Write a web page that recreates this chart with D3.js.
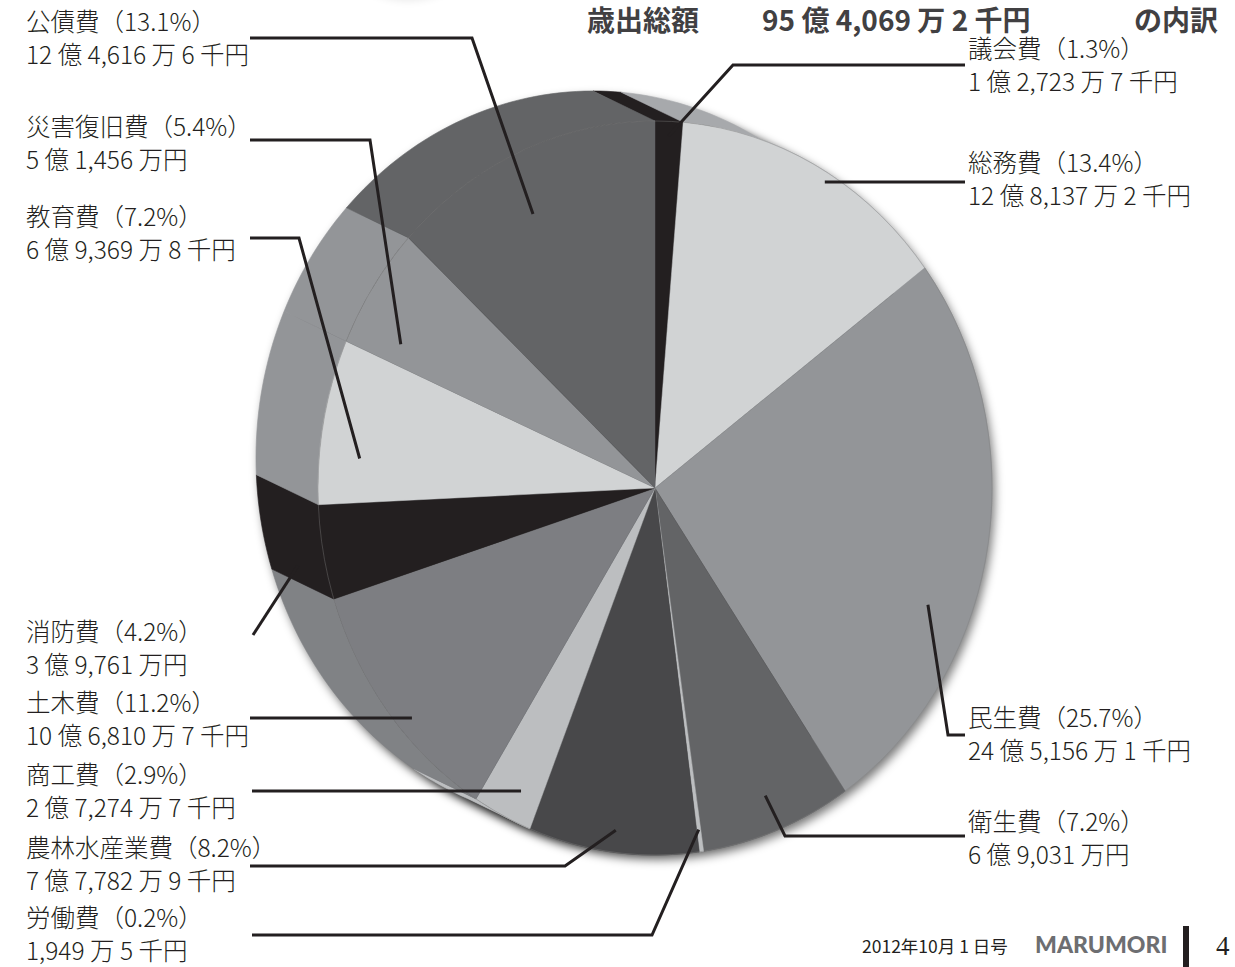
<!DOCTYPE html>
<html lang="ja">
<head>
<meta charset="utf-8">
<title>歳出総額の内訳</title>
<script src="https://cdn.jsdelivr.net/npm/d3@7/dist/d3.min.js"></script>
<style>
  html, body { margin: 0; padding: 0; background: #fff; }
  svg { display: block; }
  .label { font-family: "Noto Sans CJK JP", "Noto Sans", sans-serif; font-weight: 300; font-size: 24.5px; fill: #231f20; }
  .title { font-family: "Noto Sans CJK JP", sans-serif; font-weight: 700; font-size: 28px; fill: #414042; }
  .leader { fill: none; stroke: #231f20; stroke-width: 3; }
</style>
</head>
<body>
<svg id="chart" width="1235" height="967"></svg>
<script>
// 歳出の内訳 (単位: 千円)
const categories = ['議会費', '総務費', '民生費', '衛生費', '労働費', '農林水産業費',
  '商工費', '土木費', '消防費', '教育費', '災害復旧費', '公債費'];
const amounts = [127237, 1281372, 2451561, 690310, 19495, 777829,
  272747, 1068107, 397610, 693698, 514560, 1246166];
const percentLabels = ['1.3%', '13.4%', '25.7%', '7.2%', '0.2%', '8.2%',
  '2.9%', '11.2%', '4.2%', '7.2%', '5.4%', '13.1%'];

// greys of the top face and of the visible side wall
const topColors = ['#231f20', '#d1d3d4', '#939598', '#636466', '#bcbec0', '#48484a',
  '#bcbec0', '#7d7e82', '#231f20', '#d1d3d4', '#939598', '#636466'];
const sideColors = ['#231f20', '#a7a9ac', '#939598', '#636466', '#bcbec0', '#48484a',
  '#bcbec0', '#808285', '#231f20', '#939598', '#939598', '#636466'];

// label boxes and callout elbows (t/k = where the callout enters the slice)
const labelLayout = [
  { x: 968, y: 58,  path: [[965, 65], [733, 65]],   t: 0.5,  k: 0.96 },
  { x: 968, y: 172, path: [[965, 182]],             chord: 0.9 },
  { x: 968, y: 727, path: [[965, 735], [948, 735]], t: 0.63, k: 0.87 },
  { x: 968, y: 831, path: [[965, 836], [785, 836]], t: 0.5,  k: 0.9 },
  { x: 26,  y: 927, path: [[252, 935], [652, 935]], t: 0.5,  k: 0.94 },
  { x: 26,  y: 857, path: [[250, 866], [565, 866]], t: 0.5,  k: 0.94 },
  { x: 26,  y: 784, path: [[252, 791]],             chord: 0.36 },
  { x: 26,  y: 712, path: [[250, 718]],             chord: 0.85 },
  { x: 26,  y: 641, path: [[253, 635]],             t: 0.2,  k: 1, s: 0.5 },
  { x: 26,  y: 226, path: [[250, 238], [299, 238]], t: 0.3,  k: 0.88 },
  { x: 26,  y: 136, path: [[250, 140], [370, 140]], t: 0.2,  k: 0.85 },
  { x: 26,  y: 31,  path: [[250, 38], [472, 38]],   t: 0.45, k: 0.83 }
];

const cx = 655, cy = 488;      // centre of the top face
const rx = 337, ry = 367;      // top face radii
const depth = [-62, -30];      // direction of the side wall
const lineGap = 33;

const svg = d3.select('#chart');

// 千円 -> "1 億 2,723 万 7 千円"
function formatYen(v) {
  const oku = Math.floor(v / 100000);
  const man = Math.floor(v / 10) % 10000;
  const sen = v % 10;
  let s = '';
  if (oku) s += oku + ' 億 ';
  if (man) s += d3.format(',')(man) + ' 万';
  s += sen ? ' ' + sen + ' 千円' : '円';
  return s;
}

function proj(a, k) {
  return [cx + rx * k * Math.sin(a), cy - ry * k * Math.cos(a)];
}

// x where the slice boundary at angle a crosses the row y (or the rim)
function chordX(a, y) {
  const t = (y - cy) / (-ry * Math.cos(a));
  if (t > 0 && t <= 1) return cx + rx * t * Math.sin(a);
  const e = Math.sqrt(Math.max(0, 1 - Math.pow((y - cy) / ry, 2)));
  return cx + Math.sign(Math.sin(a)) * rx * e;
}

const slices = d3.pie().sort(null).value(d => d)(amounts);

const defs = svg.append('defs');
defs.append('filter').attr('id', 'soft')
  .attr('x', '-20%').attr('y', '-20%').attr('width', '140%').attr('height', '140%')
  .append('feGaussianBlur').attr('stdDeviation', 5);

// drop shadow of the whole disc
const shadow = svg.append('g').attr('filter', 'url(#soft)')
  .attr('transform', 'translate(3,5)');
shadow.selectAll('ellipse')
  .data(d3.range(0, 1.01, 0.2))
  .join('ellipse')
  .attr('cx', s => cx + depth[0] * s)
  .attr('cy', s => cy + depth[1] * s)
  .attr('rx', rx).attr('ry', ry)
  .attr('fill', '#000').attr('opacity', 0.5);

// faint shadow cut by the top of the page
svg.append('ellipse')
  .attr('cx', 408).attr('cy', -42).attr('rx', 58).attr('ry', 42)
  .attr('fill', '#000').attr('opacity', 0.1).attr('filter', 'url(#soft)');

// side wall: sweep each slice rim along the depth direction
const line = d3.line();
function sidePath(d) {
  const n = Math.max(2, Math.ceil((d.endAngle - d.startAngle) * 40));
  const front = d3.range(n + 1).map(i => proj(d.startAngle + (d.endAngle - d.startAngle) * i / n, 1));
  const back = front.map(p => [p[0] + depth[0], p[1] + depth[1]]).reverse();
  return line(front.concat(back)) + 'Z';
}
svg.append('g')
  .selectAll('path')
  .data(slices)
  .join('path')
  .attr('d', sidePath)
  .attr('fill', (d, i) => sideColors[i])
  .attr('stroke', (d, i) => sideColors[i])
  .attr('stroke-width', 0.6);

// top face
const arc = d3.arc().innerRadius(0).outerRadius(ry);
svg.append('g')
  .attr('transform', `translate(${cx},${cy}) scale(${rx / ry},1)`)
  .selectAll('path')
  .data(slices)
  .join('path')
  .attr('d', arc)
  .attr('fill', (d, i) => topColors[i])
  .attr('stroke', (d, i) => topColors[i])
  .attr('stroke-width', 0.5);

// thin rim line between top and side
svg.append('ellipse')
  .attr('cx', cx).attr('cy', cy).attr('rx', rx).attr('ry', ry)
  .attr('fill', 'none').attr('stroke', '#808080')
  .attr('stroke-width', 0.7).attr('opacity', 0.6);

// callouts
function anchorOf(d, lay) {
  if (lay.chord !== undefined) {
    const y = lay.path[lay.path.length - 1][1];
    const x0 = chordX(d.startAngle, y), x1 = chordX(d.endAngle, y);
    return [x0 + (x1 - x0) * lay.chord, y];
  }
  const a = d.startAngle + (d.endAngle - d.startAngle) * lay.t;
  const p = proj(a, lay.k);
  const s = lay.s || 0;
  return [p[0] + depth[0] * s, p[1] + depth[1] * s];
}

svg.append('g')
  .selectAll('path')
  .data(slices)
  .join('path')
  .attr('class', 'leader')
  .attr('d', (d, i) => line(labelLayout[i].path.concat([anchorOf(d, labelLayout[i])])));

const labels = svg.append('g')
  .selectAll('text')
  .data(categories)
  .join('text')
  .attr('class', 'label')
  .attr('x', (d, i) => labelLayout[i].x)
  .attr('y', (d, i) => labelLayout[i].y);
labels.append('tspan').text((d, i) => `${d}（${percentLabels[i]}）`);
labels.append('tspan')
  .attr('x', (d, i) => labelLayout[i].x)
  .attr('dy', lineGap)
  .text((d, i) => formatYen(amounts[i]));

// title
const total = d3.sum(amounts);
svg.append('text').attr('class', 'title').attr('x', 587).attr('y', 31).text('歳出総額');
svg.append('text').attr('class', 'title').attr('x', 762).attr('y', 31).text(formatYen(total));
svg.append('text').attr('class', 'title').attr('x', 1218).attr('y', 31)
  .attr('text-anchor', 'end').text('の内訳');

// page footer
svg.append('text')
  .attr('x', 862).attr('y', 953)
  .attr('font-family', '"Noto Sans CJK JP", sans-serif').attr('font-size', 17.5)
  .attr('fill', '#231f20')
  .text('2012年10月 1 日号');
svg.append('text')
  .attr('x', 1035).attr('y', 953)
  .attr('font-family', 'Lato, sans-serif').attr('font-weight', 900).attr('font-size', 23)
  .attr('fill', '#6d6e71')
  .text('MARUMORI');
svg.append('rect')
  .attr('x', 1183).attr('y', 926).attr('width', 6).attr('height', 41)
  .attr('fill', '#231f20');
svg.append('text')
  .attr('x', 1216).attr('y', 955)
  .attr('font-family', '"Liberation Serif", serif').attr('font-size', 27)
  .attr('fill', '#231f20')
  .text('4');
</script>
</body>
</html>
